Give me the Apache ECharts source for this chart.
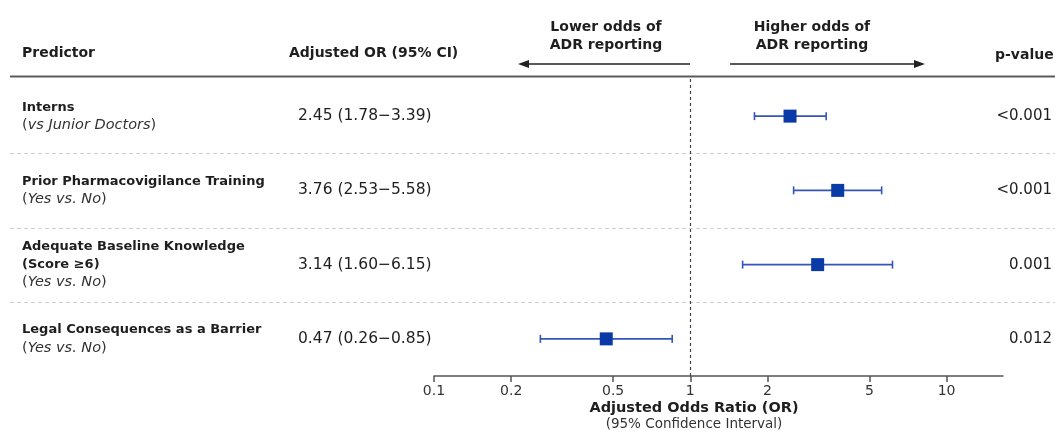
<!DOCTYPE html>
<html><head><meta charset="utf-8">
<script src="https://cdn.jsdelivr.net/npm/echarts@6/dist/echarts.min.js"></script>
<style>html,body{margin:0;padding:0;background:#fff}#c{width:1055px;height:432px}</style>
</head><body><div id="c"></div>
<script>
// ---- data ----
const predictors = ['Interns', 'Prior Pharmacovigilance Training', 'Adequate Baseline Knowledge\n(Score \u22656)', 'Legal Consequences as a Barrier'];
const comparisons = ['vs Junior Doctors', 'Yes vs. No', 'Yes vs. No', 'Yes vs. No'];
const orValues = [2.45, 3.76, 3.14, 0.47];
const ciLower = [1.78, 2.53, 1.60, 0.26];
const ciUpper = [3.39, 5.58, 6.15, 0.85];
const pValues = ['<0.001', '<0.001', '0.001', '0.012'];
const tickValues = [0.1, 0.2, 0.5, 1, 2, 5, 10];
const tickLabels = ['0.1', '0.2', '0.5', '1', '2', '5', '10'];
const axisMax = 16.6;

const FONT = '"DejaVu Sans", "Noto Sans", sans-serif';
const TXT = '#1e1e1e';
const lg = v => Math.log10(v);
const fmt = v => v.toFixed(2);
const orText = orValues.map((v, i) => fmt(v) + ' (' + fmt(ciLower[i]) + '\u2212' + fmt(ciUpper[i]) + ')');
const cats = predictors.map((p, i) => String(i));
const tickPos = tickValues.map(lg);

const chart = echarts.init(document.getElementById('c'), null, {renderer: 'canvas'});

const option = {
  animation: false,
  backgroundColor: '#fff',
  textStyle: {fontFamily: FONT},
  grid: {left: 434, right: 52, top: 79, bottom: 56, containLabel: false},
  xAxis: {
    type: 'value', min: lg(tickValues[0]), max: lg(axisMax),
    splitLine: {show: false},
    axisLine: {show: true, lineStyle: {color: '#555', width: 1.5}},
    axisTick: {show: true, inside: false, customValues: tickPos, length: 6, lineStyle: {color: '#555', width: 1.5}},
    axisLabel: {
      customValues: tickPos, margin: 8, fontSize: 14, color: '#333', fontFamily: FONT,
      formatter: v => {
        const k = tickPos.findIndex(t => Math.abs(t - v) < 1e-6);
        return k >= 0 ? tickLabels[k] : '';
      }
    }
  },
  yAxis: [
    {
      type: 'category', inverse: true, data: cats, position: 'left',
      axisLine: {show: false}, axisTick: {show: false}, splitLine: {show: false},
      axisLabel: {
        align: 'left', margin: 412, fontFamily: FONT,
        formatter: (v, i) => {
          const idx = Number(v);
          const lines = predictors[idx].split('\n').map(s => '{b|' + s + '}');
          lines.push('{n|(}{i|' + comparisons[idx] + '}{n|)}');
          return lines.join('\n');
        },
        rich: {
          b: {fontWeight: 'bold', fontSize: 13, color: TXT, lineHeight: 18, fontFamily: FONT},
          i: {fontStyle: 'italic', fontSize: 14.5, color: '#333', lineHeight: 18, fontFamily: FONT},
          n: {fontSize: 14.5, color: '#333', lineHeight: 18, fontFamily: FONT}
        }
      }
    },
    {
      type: 'category', inverse: true, data: cats, position: 'left',
      axisLine: {show: false}, axisTick: {show: false}, splitLine: {show: false},
      axisLabel: {align: 'left', margin: 136, fontSize: 15.5, color: TXT, fontFamily: FONT,
        formatter: v => orText[Number(v)]}
    },
    {
      type: 'category', inverse: true, data: cats, position: 'right',
      axisLine: {show: false}, axisTick: {show: false}, splitLine: {show: false},
      axisLabel: {align: 'right', margin: 49, fontSize: 15, color: TXT, fontFamily: FONT,
        formatter: v => pValues[Number(v)]}
    }
  ],
  series: [
    {
      type: 'custom', yAxisIndex: 0,
      encode: {x: [0, 1], y: 2},
      data: orValues.map((v, i) => [lg(ciLower[i]), lg(ciUpper[i]), i]),
      renderItem: (params, api) => {
        const p1 = api.coord([api.value(0), api.value(2)]);
        const p2 = api.coord([api.value(1), api.value(2)]);
        const st = {stroke: '#3456b8', lineWidth: 1.6};
        const c = 4;
        return {type: 'group', children: [
          {type: 'line', shape: {x1: p1[0], y1: p1[1], x2: p2[0], y2: p2[1]}, style: st},
          {type: 'line', shape: {x1: p1[0], y1: p1[1] - c, x2: p1[0], y2: p1[1] + c}, style: st},
          {type: 'line', shape: {x1: p2[0], y1: p2[1] - c, x2: p2[0], y2: p2[1] + c}, style: st}
        ]};
      },
      z: 2
    },
    {
      type: 'scatter', yAxisIndex: 0,
      data: orValues.map((v, i) => [lg(v), i]),
      symbol: 'rect', symbolSize: 13,
      itemStyle: {color: '#0a3aa6', opacity: 1},
      z: 3,
      markLine: {
        silent: true, symbol: 'none', label: {show: false},
        lineStyle: {color: '#444', type: [3, 3], width: 1.2},
        data: [{xAxis: lg(1)}]
      }
    }
  ]
};
chart.setOption(option);

// decorations: header, separators, arrows, axis title
const sepY = [];
for (let i = 0; i < cats.length - 1; i++) {
  const a = chart.convertToPixel({yAxisIndex: 0}, cats[i]);
  const b = chart.convertToPixel({yAxisIndex: 0}, cats[i + 1]);
  sepY.push(Math.round((a + b) / 2) + 0.5);
}
const hdr = {fontWeight: 'bold', fontSize: 14, fill: TXT, fontFamily: FONT, textVerticalAlign: 'middle'};
const g = [
  {type: 'line', shape: {x1: 10, y1: 76.5, x2: 1055, y2: 76.5}, style: {stroke: '#5a5a5a', lineWidth: 2}},
  {type: 'text', style: Object.assign({text: 'Predictor', x: 22, y: 53, textAlign: 'left'}, hdr)},
  {type: 'text', style: Object.assign({text: 'Adjusted OR (95% CI)', x: 289, y: 53, textAlign: 'left'}, hdr)},
  {type: 'text', style: Object.assign({text: 'p-value', x: 995, y: 55, textAlign: 'left'}, hdr)},
  {type: 'text', style: Object.assign({text: 'Lower odds of', x: 606, y: 27, textAlign: 'center'}, hdr)},
  {type: 'text', style: Object.assign({text: 'ADR reporting', x: 606, y: 45, textAlign: 'center'}, hdr)},
  {type: 'text', style: Object.assign({text: 'Higher odds of', x: 812, y: 27, textAlign: 'center'}, hdr)},
  {type: 'text', style: Object.assign({text: 'ADR reporting', x: 812, y: 45, textAlign: 'center'}, hdr)},
  {type: 'line', shape: {x1: 690, y1: 64, x2: 524, y2: 64}, style: {stroke: '#222', lineWidth: 1.3}},
  {type: 'polygon', shape: {points: [[518, 64], [529, 60], [529, 68]]}, style: {fill: '#222'}},
  {type: 'line', shape: {x1: 730, y1: 64, x2: 919, y2: 64}, style: {stroke: '#222', lineWidth: 1.3}},
  {type: 'polygon', shape: {points: [[925, 64], [914, 60], [914, 68]]}, style: {fill: '#222'}},
  {type: 'text', style: {text: 'Adjusted Odds Ratio (OR)', x: 694, y: 408, textAlign: 'center', textVerticalAlign: 'middle', fontWeight: 'bold', fontSize: 14.5, fill: TXT, fontFamily: FONT}},
  {type: 'text', style: {text: '(95% Confidence Interval)', x: 694, y: 424, textAlign: 'center', textVerticalAlign: 'middle', fontSize: 13.5, fill: '#333', fontFamily: FONT}}
];
sepY.forEach(y => g.push({type: 'line', shape: {x1: 10, y1: y, x2: 1055, y2: y}, style: {stroke: '#cfcfcf', lineWidth: 1, lineDash: [4, 3]}}));
chart.setOption({graphic: g});
</script></body></html>
